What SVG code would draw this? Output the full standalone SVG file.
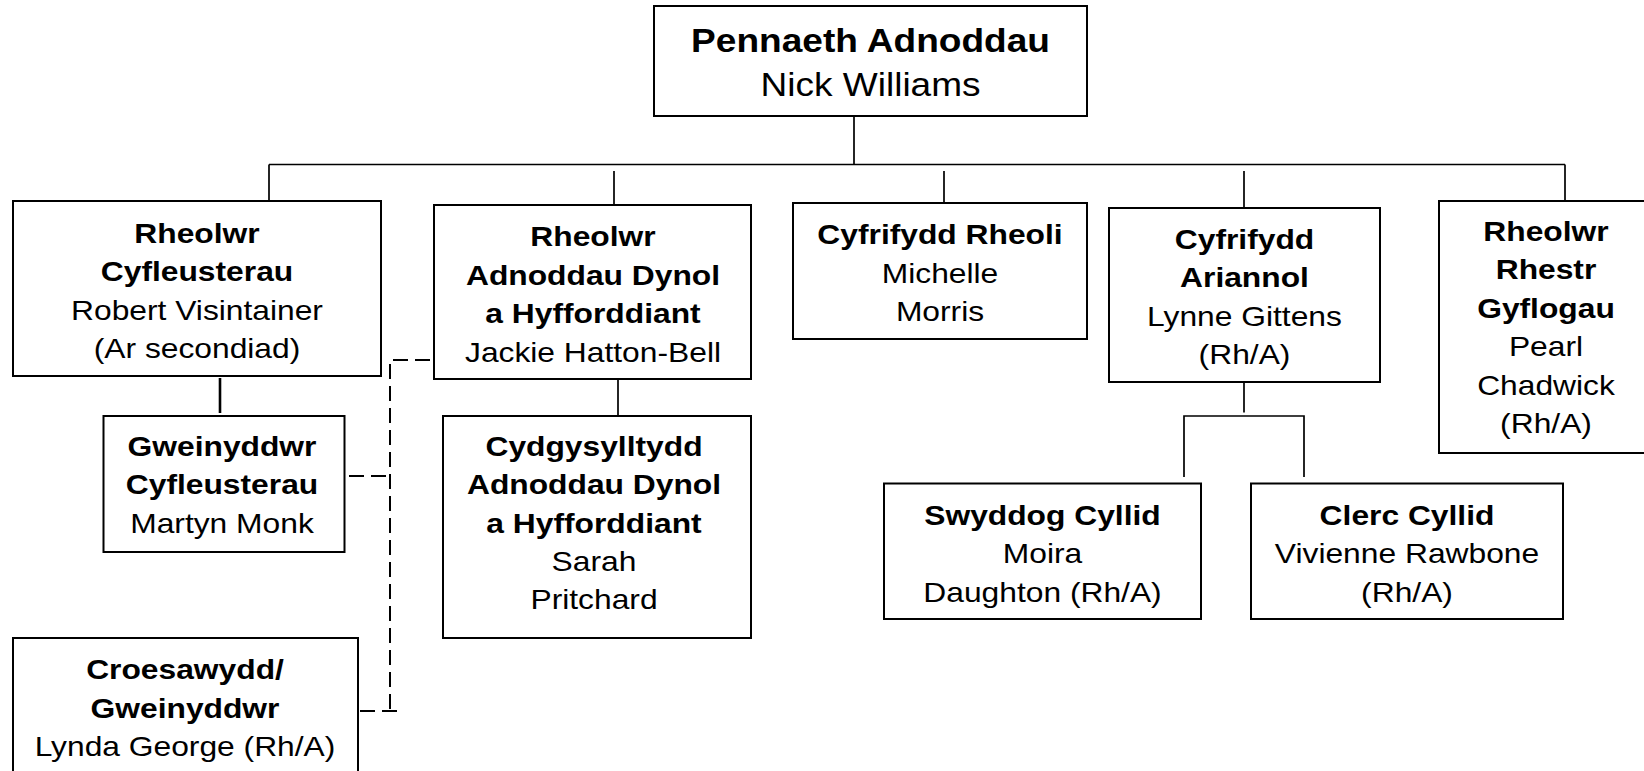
<svg xmlns="http://www.w3.org/2000/svg" width="1644" height="771" viewBox="0 0 1644 771">
<style>
.box{fill:#fff;stroke:#000;stroke-width:2}
.ln{stroke:#000;stroke-width:1.7;fill:none}
.dash{stroke-width:2;stroke-dasharray:15 7}
.t{font-family:"Liberation Sans",Arial,sans-serif;font-size:28.5px;text-anchor:middle;fill:#000}
.big{font-size:34px}
.b{font-weight:bold}
</style>
<g id="connectors">
<path class="ln" d="M854 116V164.5M269 164.5H1565M269 164.5V201M614 171V205M944 171V203M1244 171V208M1565 164.5V201M618 379V416M1244 382V412.5M1184 477V416H1304V477"/>
<path class="ln" style="stroke-width:2.6" d="M220 378V413"/>
<path class="ln dash" d="M430 360H390V711M349 476H390M360 711H397"/>
</g>
<g id="n-pennaeth">
<rect class="box" x="654" y="6" width="433" height="110"/>
<text class="t big" transform="translate(870.5,0) scale(1.09,1)"><tspan class="b" x="0" y="52">Pennaeth Adnoddau</tspan><tspan x="0" y="96">Nick Williams</tspan></text>
</g>
<g id="n-cyfleusterau">
<rect class="box" x="13" y="201" width="368" height="175"/>
<text class="t" transform="translate(197,0) scale(1.115,1)"><tspan class="b" x="0" y="243">Rheolwr</tspan><tspan class="b" x="0" y="281.5">Cyfleusterau</tspan><tspan x="0" y="320">Robert Visintainer</tspan><tspan x="0" y="358">(Ar secondiad)</tspan></text>
</g>
<g id="n-adnoddau-dynol">
<rect class="box" x="434" y="205" width="317" height="174"/>
<text class="t" transform="translate(593,0) scale(1.115,1)"><tspan class="b" x="0" y="246.5">Rheolwr</tspan><tspan class="b" x="0" y="285">Adnoddau Dynol</tspan><tspan class="b" x="0" y="323.3">a Hyfforddiant</tspan><tspan x="0" y="361.7">Jackie Hatton-Bell</tspan></text>
</g>
<g id="n-rheoli">
<rect class="box" x="793" y="203" width="294" height="136"/>
<text class="t" transform="translate(940,0) scale(1.115,1)"><tspan class="b" x="0" y="244.3">Cyfrifydd Rheoli</tspan><tspan x="0" y="282.7">Michelle</tspan><tspan x="0" y="321">Morris</tspan></text>
</g>
<g id="n-ariannol">
<rect class="box" x="1109" y="208" width="271" height="174"/>
<text class="t" transform="translate(1244.5,0) scale(1.115,1)"><tspan class="b" x="0" y="249">Cyfrifydd</tspan><tspan class="b" x="0" y="287.3">Ariannol</tspan><tspan x="0" y="325.7">Lynne Gittens</tspan><tspan x="0" y="364">(Rh/A)</tspan></text>
</g>
<g id="n-rhestr">
<rect class="box" x="1439" y="201" width="216" height="252"/>
<text class="t" transform="translate(1546,0) scale(1.115,1)"><tspan class="b" x="0" y="241">Rheolwr</tspan><tspan class="b" x="0" y="279.5">Rhestr</tspan><tspan class="b" x="0" y="318">Gyflogau</tspan><tspan x="0" y="356.3">Pearl</tspan><tspan x="0" y="394.7">Chadwick</tspan><tspan x="0" y="433">(Rh/A)</tspan></text>
</g>
<g id="n-gweinyddwr">
<rect class="box" x="103.5" y="416" width="241" height="136"/>
<text class="t" transform="translate(222,0) scale(1.115,1)"><tspan class="b" x="0" y="456">Gweinyddwr</tspan><tspan class="b" x="0" y="494.3">Cyfleusterau</tspan><tspan x="0" y="532.7">Martyn Monk</tspan></text>
</g>
<g id="n-cydgysylltydd">
<rect class="box" x="443" y="416" width="308" height="222"/>
<text class="t" transform="translate(594,0) scale(1.115,1)"><tspan class="b" x="0" y="456">Cydgysylltydd</tspan><tspan class="b" x="0" y="494.3">Adnoddau Dynol</tspan><tspan class="b" x="0" y="532.7">a Hyfforddiant</tspan><tspan x="0" y="571">Sarah</tspan><tspan x="0" y="609.3">Pritchard</tspan></text>
</g>
<g id="n-croesawydd">
<rect class="box" x="13" y="638" width="345" height="150"/>
<text class="t" transform="translate(185,0) scale(1.115,1)"><tspan class="b" x="0" y="679.3">Croesawydd/</tspan><tspan class="b" x="0" y="717.7">Gweinyddwr</tspan><tspan x="0" y="756">Lynda George (Rh/A)</tspan></text>
</g>
<g id="n-swyddog">
<rect class="box" x="884" y="483.5" width="317" height="135.5"/>
<text class="t" transform="translate(1042.5,0) scale(1.115,1)"><tspan class="b" x="0" y="525">Swyddog Cyllid</tspan><tspan x="0" y="563.3">Moira</tspan><tspan x="0" y="601.7">Daughton (Rh/A)</tspan></text>
</g>
<g id="n-clerc">
<rect class="box" x="1251" y="483.5" width="312" height="135.5"/>
<text class="t" transform="translate(1407,0) scale(1.115,1)"><tspan class="b" x="0" y="525">Clerc Cyllid</tspan><tspan x="0" y="563.3">Vivienne Rawbone</tspan><tspan x="0" y="601.7">(Rh/A)</tspan></text>
</g>
</svg>
